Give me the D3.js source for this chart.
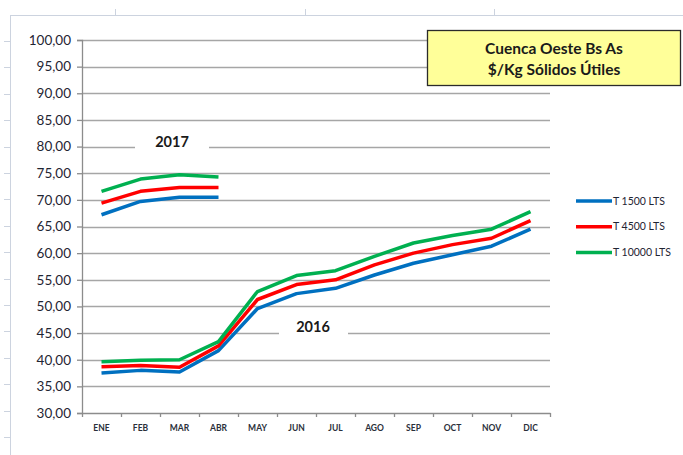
<!DOCTYPE html>
<html lang="es">
<head>
<meta charset="utf-8">
<title>Cuenca Oeste Bs As</title>
<script src="https://d3js.org/d3.v7.min.js"></script>
<style>
  body{margin:0;background:#fff;font-family:Lato, "Noto Sans", sans-serif;}
  #chart{width:683px;height:455px;}
</style>
</head>
<body>
<div id="chart"></div>
<script>
// data
var months = ["ENE","FEB","MAR","ABR","MAY","JUN","JUL","AGO","SEP","OCT","NOV","DIC"]
var seriesNames = ["T 1500 LTS","T 4500 LTS","T 10000 LTS"]
var seriesColors = ["#0070C0","#FF0000","#00B050"]

// 2016, full year
var t1500_2016 = [37.5,38.0,37.7,41.7,49.6,52.4,53.4,55.9,58.1,59.7,61.3,64.5]
var t4500_2016 = [38.7,38.9,38.6,42.6,51.3,54.1,55.0,57.8,60.0,61.6,62.8,66.1]
var t10000_2016 = [39.6,39.9,40.0,43.4,52.8,55.8,56.7,59.4,61.9,63.3,64.5,67.8]

// 2017, ene-abr
var t1500_2017 = [67.2,69.7,70.5,70.5]
var t4500_2017 = [69.4,71.6,72.3,72.3]
var t10000_2017 = [71.6,73.9,74.7,74.3]

var yTicks = [30,35,40,45,50,55,60,65,70,75,80,85,90,95,100]

var W = 683, H = 455
var m = {left:82, right:133, top:40, bottom:42}
var w = W - m.left - m.right
var h = H - m.top - m.bottom

var svg = d3.select("#chart").append("svg")
    .attr("width", W).attr("height", H)

// faint spreadsheet frame behind the chart
var frame = svg.append("g").attr("stroke", "#ccd3df").attr("stroke-width", 1)
frame.append("line").attr("x1", 10).attr("x2", W).attr("y1", 15.5).attr("y2", 15.5)
frame.append("line").attr("x1", 10.5).attr("x2", 10.5).attr("y1", 15).attr("y2", H)
;[115, 305, 494].forEach(function(x){
    frame.append("line").attr("x1", x + .5).attr("x2", x + .5).attr("y1", 9).attr("y2", 15)
})
d3.range(41, H, 26.4).forEach(function(y){
    frame.append("line").attr("x1", 4).attr("x2", 10).attr("y1", Math.round(y) + .5).attr("y2", Math.round(y) + .5)
})

var g = svg.append("g").attr("transform", "translate(" + m.left + "," + m.top + ")")

var x = d3.scaleBand().domain(months).range([0, w])
var y = d3.scaleLinear().domain([30, 100]).range([h, 0])

// gridlines
g.append("g").selectAll("line").data(yTicks.slice(1)).enter().append("line")
    .attr("x1", 0).attr("x2", w)
    .attr("y1", function(d){ return Math.round(y(d)) + .5 })
    .attr("y2", function(d){ return Math.round(y(d)) + .5 })
    .attr("stroke", "#a6a6a6").attr("stroke-width", 1.3)

// y axis
var yAxis = g.append("g")
    .call(d3.axisLeft(y).tickValues(yTicks).tickSize(5).tickPadding(6)
        .tickFormat(function(d){ return d3.format(".2f")(d).replace(".", ",") }))
yAxis.selectAll("text").attr("font-size", 13.5).attr("fill", "#1f2533")
    .attr("font-family", "Lato, sans-serif")
yAxis.selectAll("line,path").attr("stroke", "#8c8c8c").attr("stroke-width", 1.3)

// x axis, ticks on band edges
var xAxis = g.append("g").attr("transform", "translate(0," + h + ")")
    .call(d3.axisBottom(x).tickSize(0).tickPadding(12))
xAxis.select("path").attr("stroke", "#8c8c8c").attr("stroke-width", 1.3)
xAxis.selectAll("text").attr("font-size", 8.5).attr("font-weight", "bold")
    .attr("fill", "#2a2f3a").attr("font-family", "Lato, sans-serif")
xAxis.selectAll(".edge").data(d3.range(months.length + 1)).enter().append("line")
    .attr("x1", function(i){ return Math.round(i * x.step()) + .5 })
    .attr("x2", function(i){ return Math.round(i * x.step()) + .5 })
    .attr("y1", 0).attr("y2", 4)
    .attr("stroke", "#8c8c8c").attr("stroke-width", 1.3)

// year labels sitting on a gridline
function yearLabel(txt, cx, cy, gapL, gapR){
    g.append("rect").attr("x", cx - gapL).attr("y", cy - 9)
        .attr("width", gapL + gapR).attr("height", 18).attr("fill", "#fff")
    g.append("text").attr("x", cx).attr("y", cy).attr("dy", "0.35em")
        .attr("text-anchor", "middle").attr("font-size", 14.5).attr("font-weight", "bold")
        .attr("fill", "#1a1a1a").text(txt)
}
yearLabel("2017", 172 - m.left, 142 - m.top, 37, 37)
yearLabel("2016", 313 - m.left, 327 - m.top, 34, 35)

// lines
var line = d3.line()
    .x(function(d, i){ return x(months[i]) + x.bandwidth() / 2 })
    .y(function(d){ return y(d) })

var y2016 = [t1500_2016, t4500_2016, t10000_2016]
var y2017 = [t1500_2017, t4500_2017, t10000_2017]

g.append("g").selectAll("path").data(y2016.concat(y2017)).enter().append("path")
    .attr("d", line)
    .attr("fill", "none")
    .attr("stroke", function(d, i){ return seriesColors[i % 3] })
    .attr("stroke-width", 3.5)
    .attr("stroke-linejoin", "round")

// title box
svg.append("rect").attr("x", 427.5).attr("y", 30.5).attr("width", 253).attr("height", 55)
    .attr("fill", "#ffff99").attr("stroke", "#2b2b2b").attr("stroke-width", 1.3)
var title = svg.append("text").attr("text-anchor", "middle")
    .attr("font-size", 15.5).attr("font-weight", "bold").attr("fill", "#1a1a1a")
title.append("tspan").attr("x", 554).attr("y", 54).text("Cuenca Oeste Bs As")
title.append("tspan").attr("x", 554).attr("y", 75).text("$/Kg Sólidos Útiles")

// legend
var leg = svg.append("g").selectAll("g").data(seriesNames).enter().append("g")
    .attr("transform", function(d, i){ return "translate(576," + (201 + i * 25.7) + ")" })
leg.append("line").attr("x1", 0).attr("x2", 36)
    .attr("stroke", function(d, i){ return seriesColors[i] }).attr("stroke-width", 3.5)
leg.append("text").attr("x", 37).attr("dy", "0.35em")
    .attr("font-size", 10.5).attr("fill", "#1f2533").text(function(d){ return d })
</script>
</body>
</html>
